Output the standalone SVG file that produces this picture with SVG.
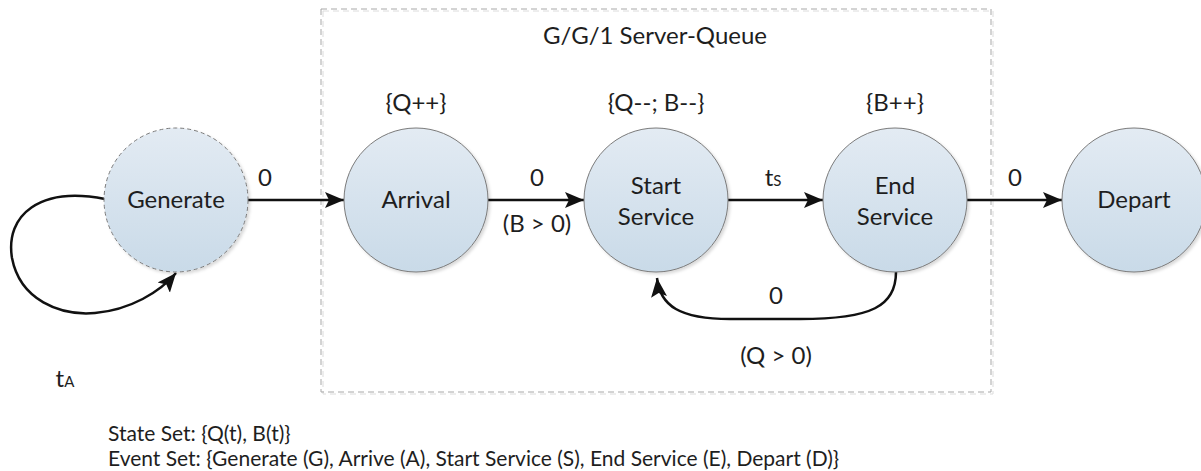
<svg xmlns="http://www.w3.org/2000/svg" width="1201" height="471" viewBox="0 0 1201 471">
<style>
text{font-family:Lato,"Open Sans","Liberation Sans",sans-serif;fill:#1e1e1e}
.lbl{font-size:24px;text-anchor:middle}
.note{font-size:21px}
.node{fill:url(#g);stroke:#7a7a7a;stroke-width:1;filter:url(#sh)}
.edge{fill:none;stroke:#111;stroke-width:2.5;marker-end:url(#arr)}
</style>
<defs>
<linearGradient id="g" x1="0" y1="0" x2="0" y2="1">
<stop offset="0" stop-color="#e3ebf3"/>
<stop offset="1" stop-color="#c9dae8"/>
</linearGradient>
<filter id="sh" x="-20%" y="-20%" width="140%" height="140%">
<feDropShadow dx="2" dy="2" stdDeviation="1.5" flood-color="#000" flood-opacity="0.15"/>
</filter>
<marker id="arr" markerUnits="userSpaceOnUse" markerWidth="20" markerHeight="18" viewBox="0 0 20 18" refX="19" refY="9" orient="auto">
<path d="M0,1 L19,9 L0,17 L4,9 Z" fill="#111"/>
</marker>
</defs>
<g id="queue-box">
<rect x="323" y="11" width="670" height="383" fill="none" stroke="#dcdcdc" stroke-width="1" stroke-dasharray="6,4"/>
<rect x="321" y="9" width="670" height="383" fill="none" stroke="#a8a8a8" stroke-width="1" stroke-dasharray="6,4"/>
<text class="lbl" x="655" y="44">G/G/1 Server-Queue</text>
</g>
<g id="connectors">
<path class="edge" d="M105,199 C40,186 5,215 12,258 C20,300 60,316 95,313 C130,310 160,292 176,273"/>
<path class="edge" d="M248,200 L344,200"/>
<path class="edge" d="M488,200 L584,200"/>
<path class="edge" d="M728,200 L823,200"/>
<path class="edge" d="M967,200 L1062,200"/>
<path class="edge" d="M896,272 C896,306 872,319 800,319 L730,319 C680,319 660,306 657,278"/>
<text class="lbl" x="265" y="186">0</text>
<text class="lbl" x="537" y="186">0</text>
<text class="lbl" x="537" y="232">(B &gt; 0)</text>
<text class="lbl" x="773" y="186">t<tspan font-size="15">S</tspan></text>
<text class="lbl" x="1015" y="186">0</text>
<text class="lbl" x="776" y="304">0</text>
<text class="lbl" x="776" y="364">(Q &gt; 0)</text>
<text class="lbl" x="65" y="387">t<tspan font-size="15">A</tspan></text>
</g>
<g id="generate">
<circle class="node" cx="176" cy="200" r="72" stroke-dasharray="4,3"/>
<text class="lbl" x="176" y="208">Generate</text>
</g>
<g id="arrival">
<circle class="node" cx="416" cy="200" r="72"/>
<text class="lbl" x="416" y="208">Arrival</text>
<text class="lbl" x="416" y="111">{Q++}</text>
</g>
<g id="start-service">
<circle class="node" cx="656" cy="200" r="72"/>
<text class="lbl" x="656" y="194">Start</text>
<text class="lbl" x="656" y="225">Service</text>
<text class="lbl" x="656" y="111">{Q--; B--}</text>
</g>
<g id="end-service">
<circle class="node" cx="895" cy="200" r="72"/>
<text class="lbl" x="895" y="194">End</text>
<text class="lbl" x="895" y="225">Service</text>
<text class="lbl" x="895" y="111">{B++}</text>
</g>
<g id="depart">
<circle class="node" cx="1134" cy="200" r="72"/>
<text class="lbl" x="1134" y="208">Depart</text>
</g>
<g id="legend">
<text class="note" x="108" y="441">State Set: {Q(t), B(t)}</text>
<text class="note" x="108" y="466">Event Set: {Generate (G), Arrive (A), Start Service (S), End Service (E), Depart (D)}</text>
</g>
</svg>
